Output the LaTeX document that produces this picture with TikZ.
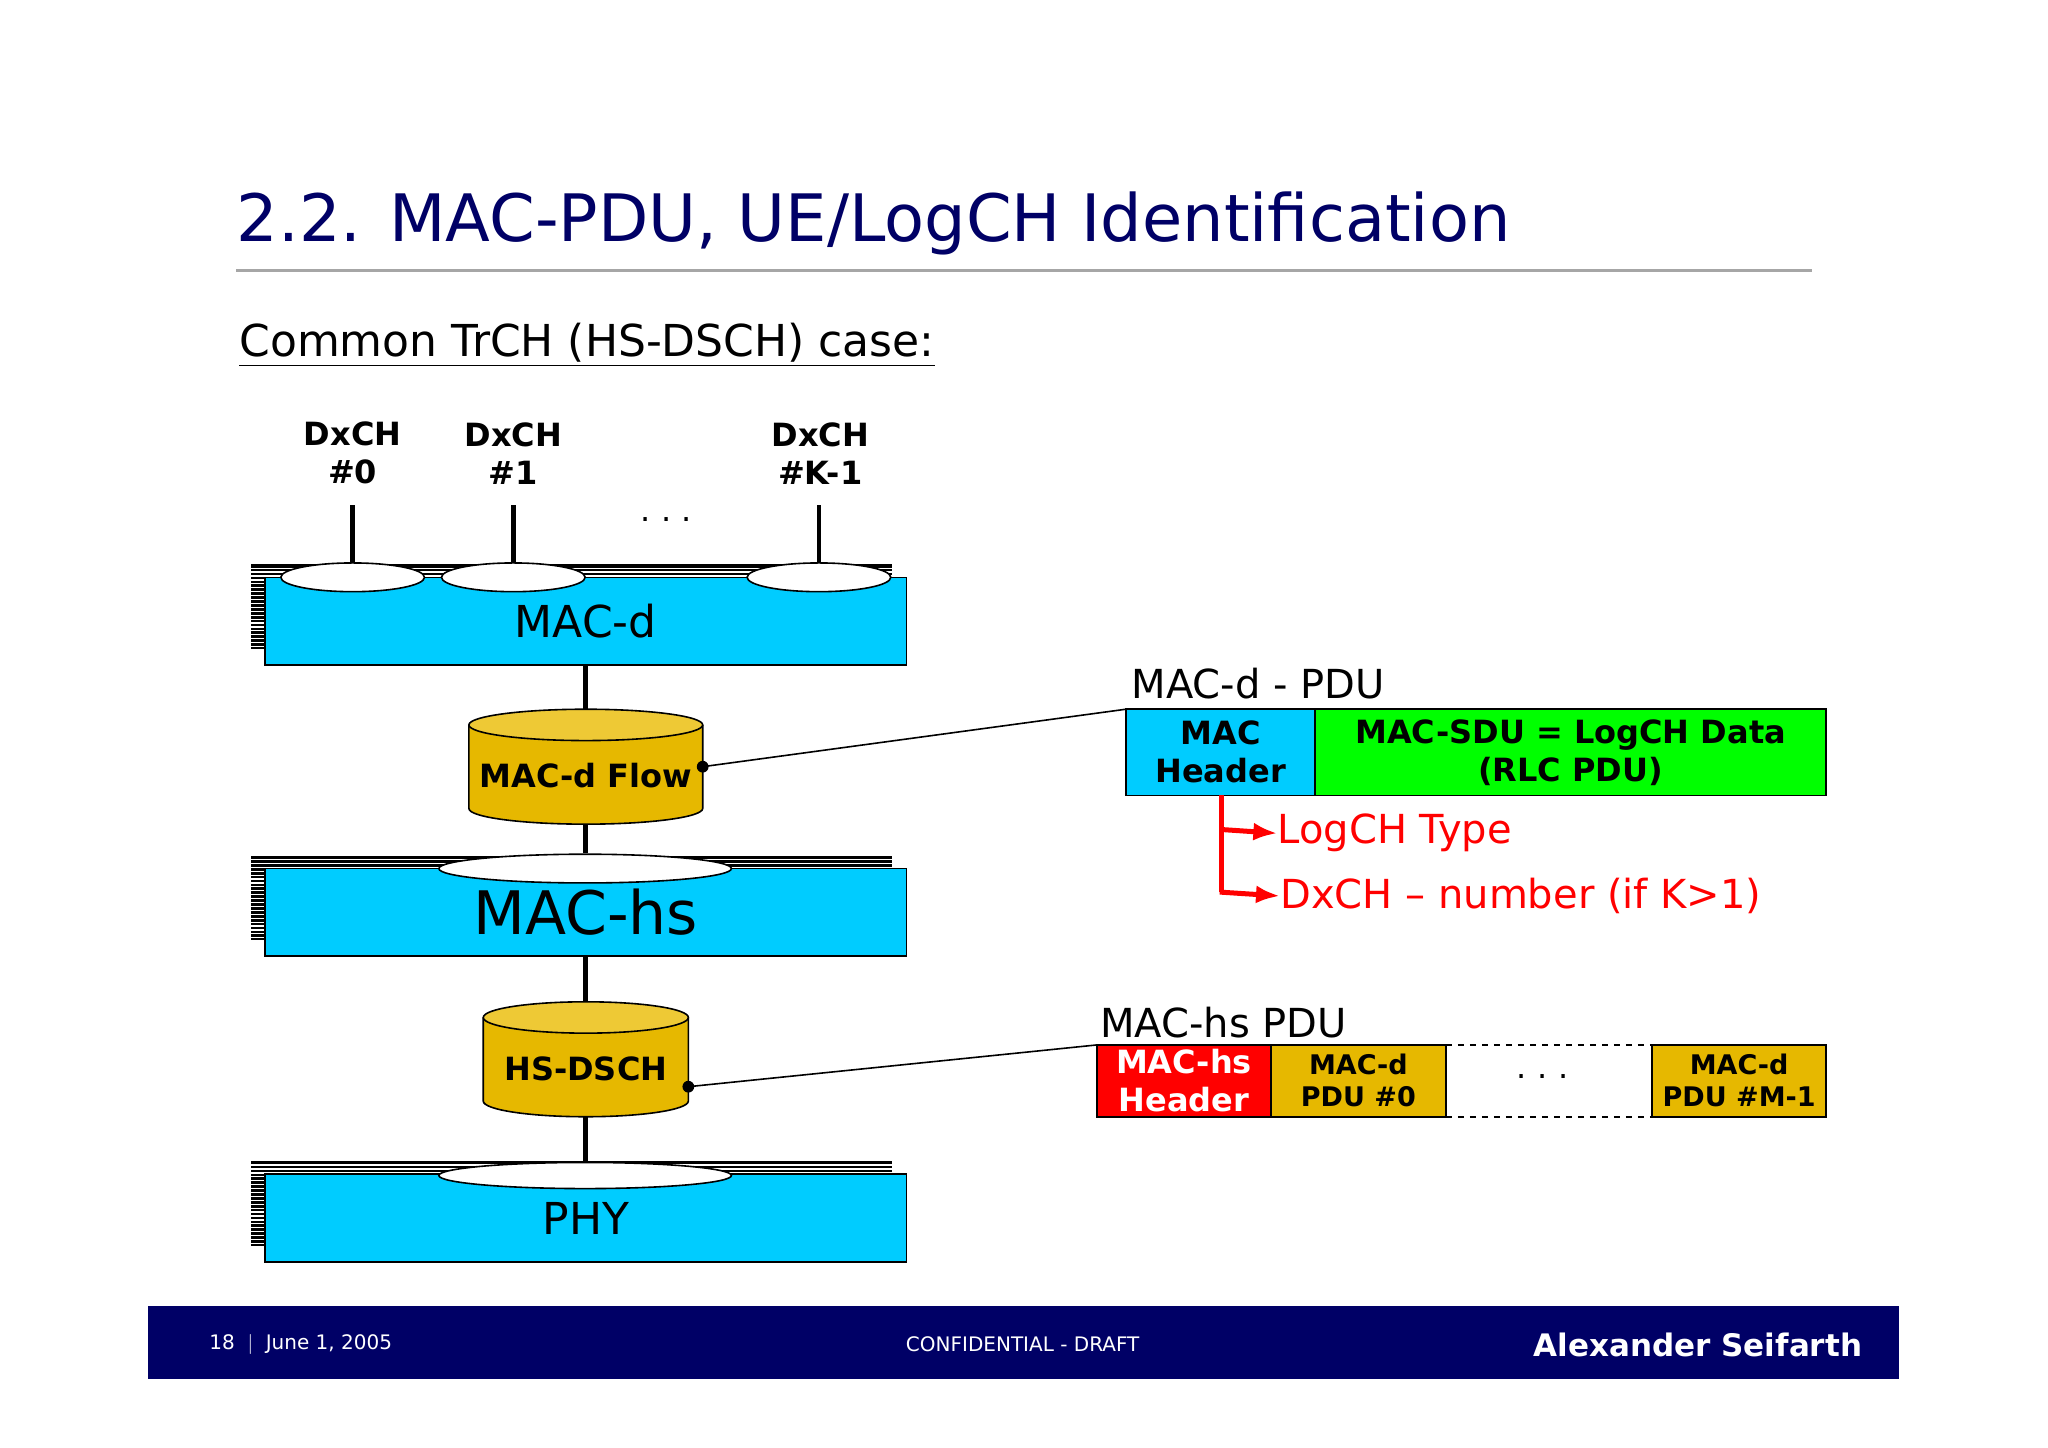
\documentclass[tikz,border=0pt]{standalone}
\usepackage{fontspec}
\setmainfont{DejaVu Sans}
\usetikzlibrary{shapes.geometric,arrows.meta}
\begin{document}
\begin{tikzpicture}[x=0.653pt,y=-0.653pt,
  blue/.style={fill=cyanb,draw=black,line width=0.8pt},
  oval/.style={ellipse,fill=white,draw=black,line width=0.8pt},
  conn/.style={line width=2.4pt},
  lbl/.style={font=\fontsize{16}{19}\selectfont\bfseries,align=center},
  gold/.style={fill=goldc,draw=black,line width=0.8pt}]
\definecolor{cyanb}{HTML}{00CCFF}
\definecolor{goldc}{HTML}{E6B800}
\definecolor{goldt}{HTML}{EEC935}
\definecolor{navy}{HTML}{000066}
\definecolor{greenc}{HTML}{00FF00}
\useasboundingbox (0,0) rectangle (1568,1108);
\fill[white] (0,0) rectangle (1568,1108);
% title
\node[anchor=base west,text=navy,font=\fontsize{32.7}{38}\selectfont,inner sep=0] (title) at (181,185) {2.2. MAC-PDU, UE/LogCH Identification};
\draw[gray!70,line width=1.5pt] (181,207) -- (1387,207);
\node[anchor=base west,font=\fontsize{22}{26}\selectfont,inner sep=0] (sub) at (183,273) {\underline{Common TrCH (HS-DSCH) case:}};
% platforms
\newcommand{\platform}[4]{%
  \fill[black] (192,#1) rectangle (683,#1+65);
  \foreach \k in {1,...,21}{\draw[white,line width=0.6pt] (192,#1+\k*3) -- (683,#1+\k*3);}
  \draw[blue] (203,#1+10) rectangle node[font=\fontsize{#3}{#3}\selectfont] (#2) {#4} (694,#1+77);}
\platform{432}{macd}{22}{MAC-d}
\platform{655}{machs}{30}{MAC-hs}
\platform{889}{phy}{22}{PHY}
% ovals
\foreach \x/\n in {270/o0,393/o1,627/o2}{\node[oval,minimum width=110pt*0.653,minimum height=22pt*0.653,inner sep=0] (\n) at (\x,442) {};}
\node[oval,minimum width=224pt*0.653,minimum height=22pt*0.653,inner sep=0] (ohs) at (448,665) {};
\node[oval,minimum width=224pt*0.653,minimum height=20pt*0.653,inner sep=0] (ophy) at (448,900) {};
% DxCH
\node[lbl] (d0) at (270,347) {DxCH\\\#0};
\node[lbl] (d1) at (393,347) {DxCH\\\#1};
\node[lbl] (d2) at (628,347) {DxCH\\\#K-1};
\node[font=\fontsize{16}{16}\selectfont] (dots1) at (510,398) {.\,\,.\,\,.};
\foreach \x/\n in {270/o0,393/o1,627/o2}{\draw[conn] (\x,387) -- (\n.north);}
% cylinders
\newcommand{\cyl}[6]{% x1 x2 ytop ybot name text
  \fill[goldc] (#1,#3) -- (#1,#4) arc[start angle=180,end angle=0,x radius={(#2-#1)/2},y radius=12] -- (#2,#3) -- cycle;
  \draw[line width=0.8pt] (#1,#3) -- (#1,#4) arc[start angle=180,end angle=0,x radius={(#2-#1)/2},y radius=12] -- (#2,#3);
  \draw[fill=goldt,line width=0.8pt] ({(#1+#2)/2},#3) ellipse[x radius={(#2-#1)/2},y radius=12];
  \node[lbl] (#5) at ({(#1+#2)/2},{(#3+#4)/2+7}) {#6};}
\cyl{359}{538}{555}{619}{flow}{MAC-d Flow}
\cyl{370}{527}{779}{843}{hsd}{HS-DSCH}
\draw[conn] (448,509) -- (448,543);
\draw[conn] (448,631) -- (ohs.north);
\draw[conn] (448,733) -- (448,767);
\draw[conn] (448,855) -- (ophy.north);
% MAC-d PDU
\node[anchor=base west,font=\fontsize{20}{24}\selectfont,inner sep=0] (mdl) at (866,535) {MAC-d - PDU};
\draw[blue] (862,543) rectangle node[lbl] (mh) {MAC\\Header} (1007,609);
\coordinate (mhc) at (862,543);
\draw[fill=greenc,draw=black,line width=0.8pt] (1007,543) rectangle node[lbl] (sdu) {MAC-SDU = LogCH Data\\(RLC PDU)} (1398,609);
\coordinate (fd) at (538,587);
\fill (fd) circle (4.5);
\draw[line width=0.8pt] (fd) -- (mhc);
\node[anchor=west,text=red,font=\fontsize{20}{24}\selectfont,inner sep=0] (lt) at (978,638) {LogCH Type};
\node[anchor=west,text=red,font=\fontsize{20}{24}\selectfont,inner sep=0] (dn) at (980,686) {DxCH -- number (if K>1)};
\draw[red,line width=2.5pt] (935,609) -- (935,683);
\draw[red,line width=2.5pt,-{Latex[length=12pt,width=9pt]}] (933.8,635) -- (lt.west);
\draw[red,line width=2.5pt,-{Latex[length=12pt,width=9pt]}] (933.8,683) -- (dn.west);
% MAC-hs PDU
\node[anchor=base west,font=\fontsize{20}{24}\selectfont,inner sep=0] (mhl) at (842,794) {MAC-hs PDU};
\draw[fill=red,draw=black,line width=0.8pt] (840,800) rectangle node[lbl,text=white] (hh) {MAC-hs\\Header} (973,855);
\coordinate (hhc) at (840,800);
\draw[gold] (973,800) rectangle node[lbl,font=\fontsize{13.5}{16}\selectfont\bfseries] (p0) {MAC-d\\PDU \#0} (1107,855);
\draw[gold] (1265,800) rectangle node[lbl,font=\fontsize{13.5}{16}\selectfont\bfseries] (pm) {MAC-d\\PDU \#M-1} (1398,855);
\draw[dashed,line width=0.8pt] (1107,800) -- (1265,800) (1107,855) -- (1265,855);
\node[font=\fontsize{16}{16}\selectfont] (dots2) at (1181,824) {.\,\,.\,\,.};
\coordinate (hd) at (527,832);
\fill (hd) circle (4.5);
\draw[line width=0.8pt] (hd) -- (hhc);
% footer
\fill[navy] (113,1000) rectangle (1454,1056);
\node[anchor=west,text=white,font=\fontsize{10}{12}\selectfont,inner sep=0] (f1) at (160,1029) {18\ \ $|$\ \ June 1, 2005};
\node[text=white,font=\fontsize{10}{12}\selectfont,inner sep=0] (f2) at (783,1029) {CONFIDENTIAL - DRAFT};
\node[anchor=east,text=white,font=\fontsize{15.5}{18}\selectfont\bfseries,inner sep=0] (f3) at (1426,1030) {Alexander Seifarth};
\end{tikzpicture}
\end{document}
